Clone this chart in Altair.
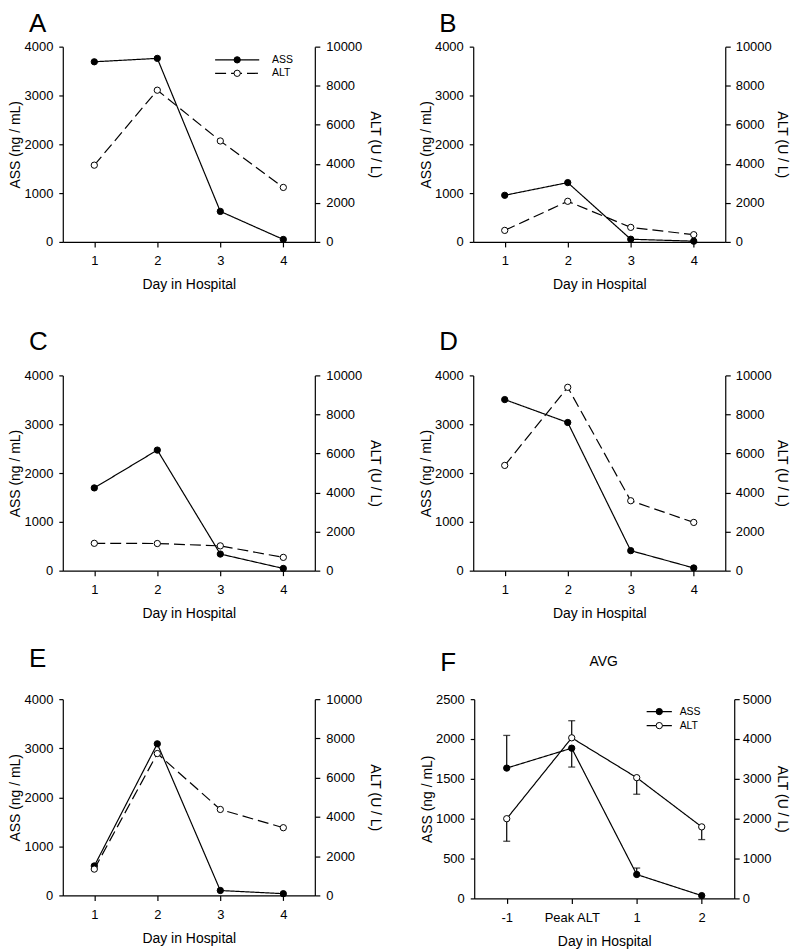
import altair as alt
import pandas as pd

FONT = "Liberation Sans"

SERIES = ["ASS", "ALT"]
KINDS = ["ass", "alt"]
DAYS = ["1", "2", "3", "4"]
F_DAYS = ["-1", "Peak ALT", "1", "2"]

ASS_A = [3690, 3760, 625, 50]
ALT_A = [3930, 7770, 5170, 2790]
ASS_B = [955, 1215, 55, 15]
ALT_B = [590, 2080, 745, 370]
ASS_C = [1695, 2470, 340, 45]
ALT_C = [1400, 1390, 1270, 680]
ASS_D = [3505, 3035, 410, 55]
ALT_D = [5390, 9390, 3580, 2470]
ASS_E = [600, 3090, 100, 35]
ALT_E = [1340, 7230, 4380, 3450]
ASS_F = [1635, 1885, 300, 35]
ALT_F = [2000, 4030, 3030, 1795]
ASS_F_ERR = [2045, 1648, 381, None]
ALT_F_ERR = [1434, 4459, 2614, 1476]

ASS_TICKS = [0, 1000, 2000, 3000, 4000]
ALT_TICKS = [0, 2000, 4000, 6000, 8000, 10000]
F_ASS_TICKS = [0, 500, 1000, 1500, 2000, 2500]
F_ALT_TICKS = [0, 1000, 2000, 3000, 4000, 5000]

DASH_SOLID = [1, 0]
DASH_ALT = [11, 5]

SYM_SIZE = 40  # marker area; legend symbols share it so both legends line up


def make_panel(letter, days, ass, altv, ass_ticks, alt_ticks, w, h, alt_dash,
               title_offset, right_extent=45, right_tpad=4, right_lpad=5, legend=None,
               ass_err=None, alt_err=None, top_text=None):
    x = alt.X("day:O", sort=days, scale=alt.Scale(type="point", padding=0.5),
              axis=alt.Axis(title="Day in Hospital", labelAngle=0, tickSize=5,
                            labelPadding=8, minExtent=26, maxExtent=26,
                            titlePadding=10))

    if legend is not None:
        lx, ly, half_units, loff, rpad = legend
        leg_line = alt.Legend(orient="none", legendX=lx, legendY=ly, title=None,
                              symbolType=f"M-{half_units},0H{half_units}",
                              symbolSize=SYM_SIZE,
                              symbolStrokeColor="black", symbolStrokeWidth=1.2,
                              symbolFillColor="transparent",
                              labelFont=FONT, labelFontSize=10.5, labelColor="black",
                              labelOffset=loff, rowPadding=rpad, padding=0)
        leg_pt = alt.Legend(orient="none", legendX=lx, legendY=ly, title=None,
                            symbolType="circle", symbolSize=SYM_SIZE,
                            symbolStrokeColor="black", symbolStrokeWidth=1,
                            labelFont=FONT, labelFontSize=10.5, labelExpr="' '",
                            labelOffset=2, rowPadding=rpad, padding=0)
    else:
        leg_line = None
        leg_pt = None

    dash = alt.StrokeDash("series:N", scale=alt.Scale(domain=SERIES, range=[DASH_SOLID, alt_dash]),
                          legend=leg_line)
    fill = alt.Fill("kind:N", scale=alt.Scale(domain=KINDS, range=["black", "white"]),
                    legend=leg_pt)

    def sub(name, kind, vals, errs, ticks, orient, title, extent, tick, tpad, lpad):
        df = pd.DataFrame({"day": days, "series": name, "kind": kind, "value": vals,
                           "err": errs if errs is not None else [None] * len(days)})
        ax = alt.Axis(orient=orient, values=ticks, title=title, format="d", tickSize=tick,
                      labelPadding=lpad, minExtent=extent, maxExtent=extent, titlePadding=tpad)
        sc = alt.Scale(domain=[ticks[0], ticks[-1]], nice=False)
        base = alt.Chart(df)
        layers = []
        if errs is not None:
            eb = base.transform_filter("isValid(datum.err)")
            layers.append(eb.mark_rule(color="black", strokeWidth=1.2).encode(
                x=x, y=alt.Y("value:Q", scale=sc, axis=ax), y2="err:Q"))
            layers.append(eb.mark_tick(orient="horizontal", size=7, thickness=1.3, color="black").encode(
                x=x, y=alt.Y("err:Q", scale=sc, axis=ax)))
        layers.append(base.mark_line(color="black", strokeWidth=1.2).encode(
            x=x, y=alt.Y("value:Q", scale=sc, axis=ax), strokeDash=dash))
        layers.append(base.mark_point(shape="circle", filled=True, size=SYM_SIZE, stroke="black",
                                      strokeWidth=1, opacity=1).encode(
            x=x, y=alt.Y("value:Q", scale=sc, axis=ax), fill=fill))
        return alt.layer(*layers)

    l_ass = sub("ASS", "ass", ass, ass_err, ass_ticks, "left", "ASS (ng / mL)", 40, 4, 0, 6)
    l_alt = sub("ALT", "alt", altv, alt_err, alt_ticks, "right", "ALT (U / L)",
                right_extent, 5, right_tpad, right_lpad)
    parts = [l_ass, l_alt]
    if top_text is not None:
        txt, tx, ty = top_text
        parts.append(alt.Chart(pd.DataFrame({"t": [txt]})).mark_text(
            font=FONT, fontSize=14, color="black").encode(
            text="t:N", x=alt.value(tx), y=alt.value(ty)))
    return alt.layer(*parts).resolve_scale(y="independent").properties(
        width=w, height=h,
        title=alt.TitleParams(text=letter, anchor="start", fontSize=26, font=FONT,
                              fontWeight="normal", color="black", offset=title_offset, dx=20))


W, H = 253, 196

# legend: (legendX, legendY, half line length in symbol units, labelOffset, rowPadding)
pA = make_panel("A", DAYS, ASS_A, ALT_A, ASS_TICKS, ALT_TICKS, W, H, DASH_ALT, 4,
                right_extent=47, right_tpad=6, right_lpad=6,
                legend=(169.8, 8, 7, 29.8, 2.5))
pB = make_panel("B", DAYS, ASS_B, ALT_B, ASS_TICKS, ALT_TICKS, W, H, DASH_ALT, 4)
pC = make_panel("C", DAYS, ASS_C, ALT_C, ASS_TICKS, ALT_TICKS, W, H, DASH_ALT, 14,
                right_extent=47, right_tpad=6, right_lpad=6)
pD = make_panel("D", DAYS, ASS_D, ALT_D, ASS_TICKS, ALT_TICKS, W, H, DASH_ALT, 14)
pE = make_panel("E", DAYS, ASS_E, ALT_E, ASS_TICKS, ALT_TICKS, W, 197, DASH_ALT, 21,
                right_extent=47, right_tpad=6, right_lpad=6)
pF = make_panel("F", F_DAYS, ASS_F, ALT_F, F_ASS_TICKS, F_ALT_TICKS, 261, 200, DASH_SOLID, -21,
                right_extent=37, right_tpad=3, right_lpad=3,
                legend=(180.5, 7.2, 4, 15.2, 3.1), ass_err=ASS_F_ERR, alt_err=ALT_F_ERR,
                top_text=("AVG", 130, -37))


def indep(c):
    return c.resolve_scale(strokeDash="independent", fill="independent").resolve_legend(
        strokeDash="independent", fill="independent")


row1 = indep(alt.hconcat(pA, pB, spacing=36))
row2 = indep(alt.hconcat(pC, pD, spacing=36))
row3 = indep(alt.hconcat(pE, pF, spacing=37))
lower = indep(alt.vconcat(row2, row3, spacing=24))
chart = indep(alt.vconcat(row1, lower, spacing=36)).properties(
    padding={"left": 0, "top": 0, "right": 3, "bottom": 0}
).configure_view(stroke="transparent").configure_axis(
    grid=False, domainColor="black", tickColor="black", labelColor="black",
    titleColor="black", labelFont=FONT, titleFont=FONT, labelFontSize=13,
    titleFontSize=14, titleFontWeight="normal", domainWidth=1.2, tickWidth=1.2
)

chart.save("out.html", embed_options={"renderer": "svg", "actions": False})
